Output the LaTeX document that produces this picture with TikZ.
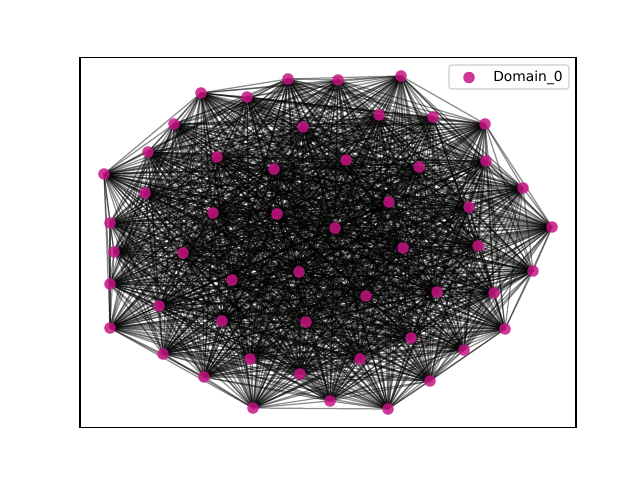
\documentclass[tikz,border=0pt]{standalone}
\usepackage{fontspec}
\setmainfont{DejaVu Sans}
\usetikzlibrary{backgrounds}
\definecolor{domcol}{RGB}{199,21,133}
\begin{document}
\begin{tikzpicture}
    \def\dx{0.01in}
    \def\dy{-0.01in}

    \useasboundingbox (0*\dx,0*\dy) rectangle (640*\dx,480*\dy);

    \tikzstyle{dom}=[circle,fill=domcol,fill opacity=0.85,draw=none,inner sep=0pt,minimum size=0.115in]
    \tikzstyle{link}=[draw=black,line width=0.9pt,opacity=0.45]
    \tikzstyle{legbox}=[draw=black!20,fill=white,fill opacity=0.8,rounded corners=2pt,line width=0.8pt]

    % axes frame
    \draw[line width=0.8pt] (80*\dx,57.6*\dy) rectangle (576*\dx,427.2*\dy);

    \node[dom] (n1) at (104*\dx,174*\dy) {};
    \node[dom] (n2) at (110*\dx,223*\dy) {};
    \node[dom] (n3) at (114*\dx,252*\dy) {};
    \node[dom] (n4) at (110*\dx,284*\dy) {};
    \node[dom] (n5) at (110*\dx,328*\dy) {};
    \node[dom] (n6) at (148*\dx,152*\dy) {};
    \node[dom] (n7) at (145*\dx,193*\dy) {};
    \node[dom] (n8) at (174*\dx,124*\dy) {};
    \node[dom] (n9) at (201*\dx,93*\dy) {};
    \node[dom] (n10) at (247*\dx,97*\dy) {};
    \node[dom] (n11) at (288*\dx,79*\dy) {};
    \node[dom] (n12) at (338*\dx,80*\dy) {};
    \node[dom] (n13) at (401*\dx,76*\dy) {};
    \node[dom] (n14) at (303*\dx,127*\dy) {};
    \node[dom] (n15) at (217*\dx,157*\dy) {};
    \node[dom] (n16) at (274*\dx,169*\dy) {};
    \node[dom] (n17) at (213*\dx,213*\dy) {};
    \node[dom] (n18) at (277*\dx,214*\dy) {};
    \node[dom] (n19) at (183*\dx,253*\dy) {};
    \node[dom] (n20) at (159*\dx,306*\dy) {};
    \node[dom] (n21) at (232*\dx,280*\dy) {};
    \node[dom] (n22) at (222*\dx,321*\dy) {};
    \node[dom] (n23) at (163*\dx,354*\dy) {};
    \node[dom] (n24) at (204*\dx,377*\dy) {};
    \node[dom] (n25) at (250*\dx,359*\dy) {};
    \node[dom] (n26) at (253*\dx,408*\dy) {};
    \node[dom] (n27) at (300*\dx,374*\dy) {};
    \node[dom] (n28) at (306*\dx,322*\dy) {};
    \node[dom] (n29) at (299*\dx,272*\dy) {};
    \node[dom] (n30) at (330*\dx,401*\dy) {};
    \node[dom] (n31) at (360*\dx,359*\dy) {};
    \node[dom] (n32) at (366*\dx,296*\dy) {};
    \node[dom] (n33) at (335*\dx,228*\dy) {};
    \node[dom] (n34) at (346*\dx,160*\dy) {};
    \node[dom] (n35) at (379*\dx,115*\dy) {};
    \node[dom] (n36) at (433*\dx,117*\dy) {};
    \node[dom] (n37) at (485*\dx,124*\dy) {};
    \node[dom] (n38) at (419*\dx,167*\dy) {};
    \node[dom] (n39) at (389*\dx,202*\dy) {};
    \node[dom] (n40) at (403*\dx,248*\dy) {};
    \node[dom] (n41) at (469*\dx,207*\dy) {};
    \node[dom] (n42) at (486*\dx,161*\dy) {};
    \node[dom] (n43) at (523*\dx,188*\dy) {};
    \node[dom] (n44) at (552*\dx,227*\dy) {};
    \node[dom] (n45) at (478*\dx,246*\dy) {};
    \node[dom] (n46) at (533*\dx,271*\dy) {};
    \node[dom] (n47) at (494*\dx,293*\dy) {};
    \node[dom] (n48) at (437*\dx,292*\dy) {};
    \node[dom] (n49) at (505*\dx,329*\dy) {};
    \node[dom] (n50) at (464*\dx,350*\dy) {};
    \node[dom] (n51) at (411*\dx,338*\dy) {};
    \node[dom] (n52) at (430*\dx,381*\dy) {};
    \node[dom] (n53) at (388*\dx,409*\dy) {};

    % every pair is linked
    \begin{pgfonlayer}{background}
    \foreach \i in {1,...,52} {
        \pgfmathtruncatemacro{\k}{\i+1}
        \foreach \j in {\k,...,53}
            \draw [link] (n\i.center) -- (n\j.center);
    }
    \end{pgfonlayer}

    % legend
    \draw[legbox] (449*\dx,65*\dy) rectangle (569*\dx,89*\dy);
    \node[dom] (legmark) at (469*\dx,77.5*\dy) {};
    \node[anchor=west,inner sep=0pt] (legtext) at (493*\dx,77.5*\dy) {Domain\_0};
\end{tikzpicture}
\end{document}
